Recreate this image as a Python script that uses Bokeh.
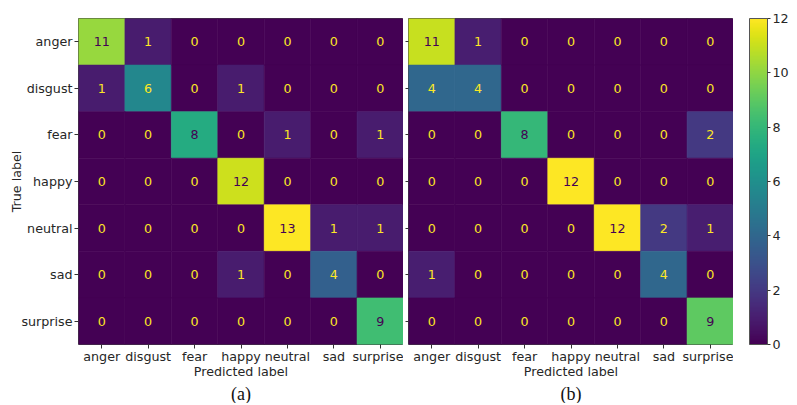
from bokeh.plotting import figure
from bokeh.models import ColumnDataSource, LinearColorMapper, ColorBar, FixedTicker, Title
from bokeh.layouts import row
from bokeh.palettes import Viridis256
from bokeh.transform import transform
from bokeh.core.properties import value
from bokeh.embed import file_html
from bokeh.resources import INLINE

labels = ["anger", "disgust", "fear", "happy", "neutral", "sad", "surprise"]
cm_a = [
    [11, 1, 0, 0, 0, 0, 0],
    [1, 6, 0, 1, 0, 0, 0],
    [0, 0, 8, 0, 1, 0, 1],
    [0, 0, 0, 12, 0, 0, 0],
    [0, 0, 0, 0, 13, 1, 1],
    [0, 0, 0, 1, 0, 4, 0],
    [0, 0, 0, 0, 0, 0, 9],
]
cm_b = [
    [11, 1, 0, 0, 0, 0, 0],
    [4, 4, 0, 0, 0, 0, 0],
    [0, 0, 8, 0, 0, 0, 2],
    [0, 0, 0, 12, 0, 0, 0],
    [0, 0, 0, 0, 12, 2, 1],
    [1, 0, 0, 0, 0, 4, 0],
    [0, 0, 0, 0, 0, 0, 9],
]
colorbar_ticks = [0, 2, 4, 6, 8, 10, 12]

FONT = "DejaVu Sans"
TXT = "#262626"
FS = "12.7px"
FRAME_W, FRAME_H, TOP = 325, 326, 18


def panel(cm, caption, show_ylabels, left):
    vals = [v for r in cm for v in r]
    vmin, vmax = min(vals), max(vals)
    thresh = (vmin + vmax) / 2.0
    xs, ys, vs, tcol, txt = [], [], [], [], []
    for i, t in enumerate(labels):
        for j, pr in enumerate(labels):
            v = cm[i][j]
            xs.append(pr)
            ys.append(t)
            vs.append(v)
            txt.append(str(v))
            tcol.append("#fde725" if v < thresh else "#440154")
    src = ColumnDataSource(dict(x=xs, y=ys, v=vs, t=txt, c=tcol))
    mapper = LinearColorMapper(palette=Viridis256, low=vmin, high=vmax)

    p = figure(frame_width=FRAME_W, frame_height=FRAME_H,
               x_range=labels, y_range=labels[::-1],
               output_backend="svg", toolbar_location=None,
               min_border_left=left, min_border_right=0,
               min_border_top=TOP, min_border_bottom=0)
    p.rect("x", "y", 1, 1, source=src, fill_color=transform("v", mapper),
           line_color=transform("v", mapper), line_width=0.6)
    p.text("x", "y", text="t", source=src, text_color="c",
           text_align="center", text_baseline="middle",
           text_font=value(FONT), text_font_size=FS)

    p.grid.visible = False
    p.outline_line_color = "#444444"
    p.outline_line_width = 1
    for ax in (p.xaxis[0], p.yaxis[0]):
        ax.axis_line_color = None
        ax.major_tick_line_color = "#333333"
        ax.major_tick_in = 0
        ax.major_tick_out = 4
        ax.minor_tick_line_color = None
        ax.major_label_text_font = FONT
        ax.major_label_text_font_size = FS
        ax.major_label_text_color = TXT
        ax.axis_label_text_font = FONT
        ax.axis_label_text_font_size = FS
        ax.axis_label_text_font_style = "normal"
        ax.axis_label_text_color = TXT
    p.xaxis.axis_label = "Predicted label"
    p.xaxis.major_label_standoff = 0
    p.xaxis.axis_label_standoff = -3
    if show_ylabels:
        p.yaxis.axis_label = "True label"
        p.yaxis.major_label_standoff = 2
        p.yaxis.axis_label_standoff = -6
    else:
        p.yaxis.major_label_overrides = {l: "" for l in labels}
        p.yaxis.major_label_text_color = None
        p.yaxis.major_label_text_font_size = "0px"
        p.yaxis.major_label_standoff = 0
        p.yaxis.major_tick_out = 3
    p.add_layout(Title(text=caption, align="center", text_font="Liberation Serif",
                       text_font_size="18px", text_font_style="normal",
                       text_color="#111111", standoff=0, offset=0), "below")
    return p, mapper


pa, _ = panel(cm_a, "(a)", True, 78)
pb, mapper_b = panel(cm_b, "(b)", False, 5)

pc = figure(frame_width=40, frame_height=FRAME_H, x_range=(0, 1),
            y_range=(colorbar_ticks[0], colorbar_ticks[-1]),
            x_axis_location=None, y_axis_location=None,
            output_backend="svg", toolbar_location=None,
            min_border_left=16, min_border_right=0,
            min_border_top=TOP, min_border_bottom=20)
pc.grid.visible = False
pc.outline_line_color = None
cb = ColorBar(color_mapper=mapper_b, ticker=FixedTicker(ticks=colorbar_ticks),
              location="top_left", width=18, height=FRAME_H, margin=0, padding=0,
              bar_line_color="#555555", major_tick_in=0, major_tick_out=3,
              major_tick_line_color="#333333", minor_tick_line_color=None,
              label_standoff=2, major_label_text_font=FONT,
              major_label_text_font_size=FS, major_label_text_color=TXT,
              background_fill_color=None, border_line_color=None)
pc.add_layout(cb)

layout = row(pa, pb, pc, spacing=0)
open("out.html", "w").write(file_html(layout, INLINE))
